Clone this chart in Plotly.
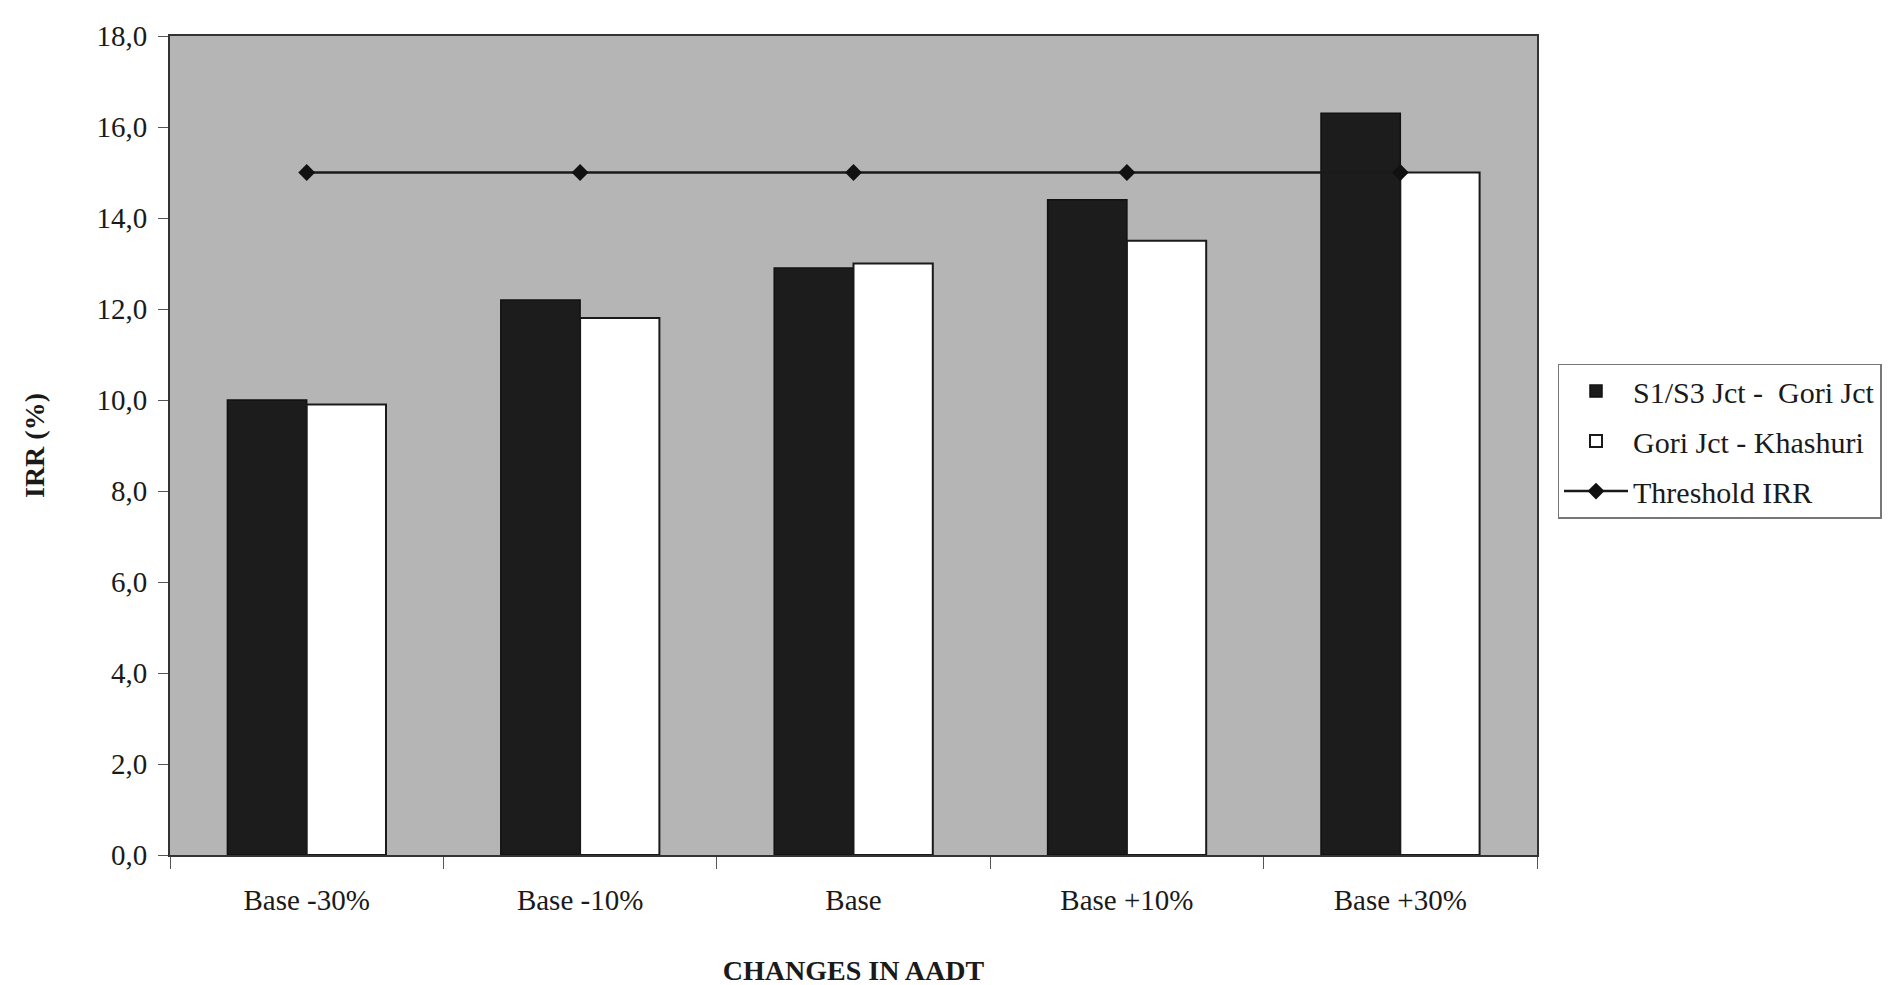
import plotly.graph_objects as go

categories = ["Base -30%", "Base -10%", "Base", "Base +10%", "Base +30%"]
s1_s3_gori = [10.0, 12.2, 12.9, 14.4, 16.3]
gori_khashuri = [9.9, 11.8, 13.0, 13.5, 15.0]
threshold_irr = [15.0, 15.0, 15.0, 15.0, 15.0]
y_ticks = [0, 2, 4, 6, 8, 10, 12, 14, 16, 18]

FONT = "Liberation Serif, Times New Roman, serif"

fig = go.Figure()
fig.add_trace(go.Bar(
    x=categories, y=s1_s3_gori, name="S1/S3 Jct -  Gori Jct", legendgroup="a",
    marker=dict(color="#1c1c1c", line=dict(color="#111111", width=1.5)),
))
fig.add_trace(go.Bar(
    x=categories, y=gori_khashuri, name="Gori Jct - Khashuri", legendgroup="b",
    marker=dict(color="#ffffff", line=dict(color="#1a1a1a", width=2)),
))
fig.add_trace(go.Scatter(
    x=categories, y=threshold_irr, name="Threshold IRR", mode="lines+markers", legendgroup="c",
    line=dict(color="#1a1a1a", width=2.5),
    marker=dict(symbol="diamond", size=13, color="#111111"),
))

fig.update_layout(
    width=1897, height=985, autosize=False,
    margin=dict(l=162, r=368, t=24, b=138),
    paper_bgcolor="#ffffff", plot_bgcolor="#b5b5b5",
    font=dict(family=FONT, size=29, color="#1a1a1a"),
    separators=", ",
    barmode="group", bargap=0.42, bargroupgap=0.0,
    showlegend=True,
    legend=dict(
        x=1.015, xanchor="left", y=0.6, yanchor="top",
        bgcolor="#ffffff", bordercolor="#777777", borderwidth=1.5,
        font=dict(family=FONT, size=30, color="#1a1a1a"),
        tracegroupgap=8, itemwidth=64,
    ),
)

fig.update_xaxes(
    type="category", showline=True, linecolor="#333333", linewidth=2, mirror=True,
    ticks="outside", tickson="boundaries", ticklen=12, tickcolor="#555555", tickwidth=1,
    ticklabelstandoff=18,
    showgrid=False, tickfont=dict(family=FONT, size=29),
    title=dict(text="<b>CHANGES IN AADT</b>", font=dict(family=FONT, size=28), standoff=46),
)
fig.update_yaxes(
    range=[0, 18], tickvals=y_ticks, tickformat=".1f",
    showline=True, linecolor="#333333", linewidth=2, mirror=True,
    ticks="outside", ticklen=10, tickcolor="#555555", tickwidth=1,
    ticklabelstandoff=5,
    showgrid=False, zeroline=False, tickfont=dict(family=FONT, size=29),
    title=dict(text="<b>IRR (%)</b>", font=dict(family=FONT, size=28), standoff=44),
)

fig.write_html("out.html")
